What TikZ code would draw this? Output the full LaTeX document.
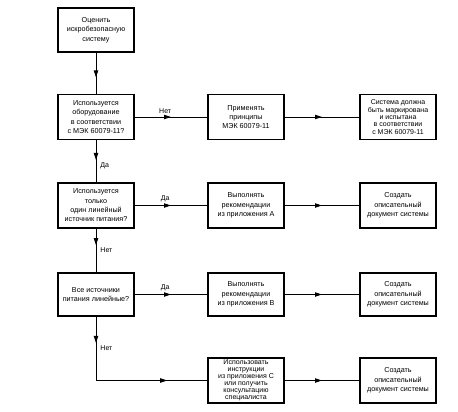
\documentclass[tikz,border=0pt]{standalone}
\usepackage{fontspec}
\setmainfont{Liberation Sans}
\usetikzlibrary{arrows.meta,decorations.markings}

\begin{document}
\begin{tikzpicture}[x=1pt, y=-1pt,
    box/.style={draw, line width=1.1pt, minimum width=76pt, minimum height=45pt,
        inner sep=1pt, align=center, font=\fontsize{7.2}{9.3}\selectfont},
    tight/.style={font=\fontsize{7}{7.3}\selectfont},
    flow/.style={line width=0.9pt},
    mid arrow/.style={postaction={decorate, decoration={markings,
        mark=at position #1 with {\arrow{Triangle[length=7pt, width=4.4pt]}}}}},
    mid arrow/.default=0.5,
    lbl/.style={font=\fontsize{7}{8}\selectfont, inner sep=1pt}]

    %% Assessment of an intrinsically safe system
    \useasboundingbox (0, 0) rectangle (458, 412);

    % Questions
    \node[box, minimum height=44pt] (start) at (96, 30) {Оценить\\искробезопасную\\систему};
    \node[box] (q1) at (96, 117) {Используется\\оборудование\\в соответствии\\с МЭК 60079-11?};
    \node[box] (q2) at (96, 205.5) {Используется\\только\\один линейный\\источник питания?};
    \node[box, minimum height=43pt] (q3) at (96, 294.5) {Все источники\\питания линейные?};

    % Actions
    \node[box] (a1) at (246, 117) {Применять\\принципы\\МЭК 60079-11};
    \node[box] (a2) at (246, 205.5) {Выполнять\\рекомендации\\из приложения А};
    \node[box, minimum height=43pt] (a3) at (246, 294.5) {Выполнять\\рекомендации\\из приложения В};
    \node[box, tight, font=\fontsize{7}{6.9}\selectfont] (a4) at (246, 380.5)
        {Использовать\\инструкции\\из приложения С\\или получить\\консультацию\\специалиста};

    % Results
    \node[box, tight] (r1) at (398, 117) {Система должна\\быть маркирована\\и испытана\\в соответствии\\с МЭК 60079-11};
    \node[box] (r2) at (398, 205.5) {Создать\\описательный\\документ системы};
    \node[box, minimum height=43pt] (r3) at (398, 294.5) {Создать\\описательный\\документ системы};
    \node[box] (r4) at (398, 380.5) {Создать\\описательный\\документ системы};

    % Main line
    \draw[flow, mid arrow=0.6] (start) -- (q1);
    \draw[flow, mid arrow=0.47] (q1) -- (q2)
        node[lbl, pos=0.6, right, xshift=3pt] {Да};
    \draw[flow, mid arrow=0.38] (q2) -- (q3)
        node[lbl, pos=0.5, right, xshift=3pt] {Нет};
    \draw[flow, mid arrow=0.15, mid arrow=0.77] (q3) |- (a4)
        node[lbl, pos=0.25, right, xshift=3pt] {Нет};

    % Branches
    \draw[flow, mid arrow] (q1) -- (a1) node[lbl, pos=0.42, above, yshift=2pt] {Нет};
    \draw[flow, mid arrow] (q2) -- (a2) node[lbl, pos=0.42, above, yshift=2pt] {Да};
    \draw[flow, mid arrow] (q3) -- (a3) node[lbl, pos=0.42, above, yshift=2pt] {Да};

    % To results
    \draw[flow, mid arrow] (a1) -- (r1);
    \draw[flow, mid arrow] (a2) -- (r2);
    \draw[flow, mid arrow] (a3) -- (r3);
    \draw[flow, mid arrow] (a4) -- (r4);

\end{tikzpicture}
\end{document}
